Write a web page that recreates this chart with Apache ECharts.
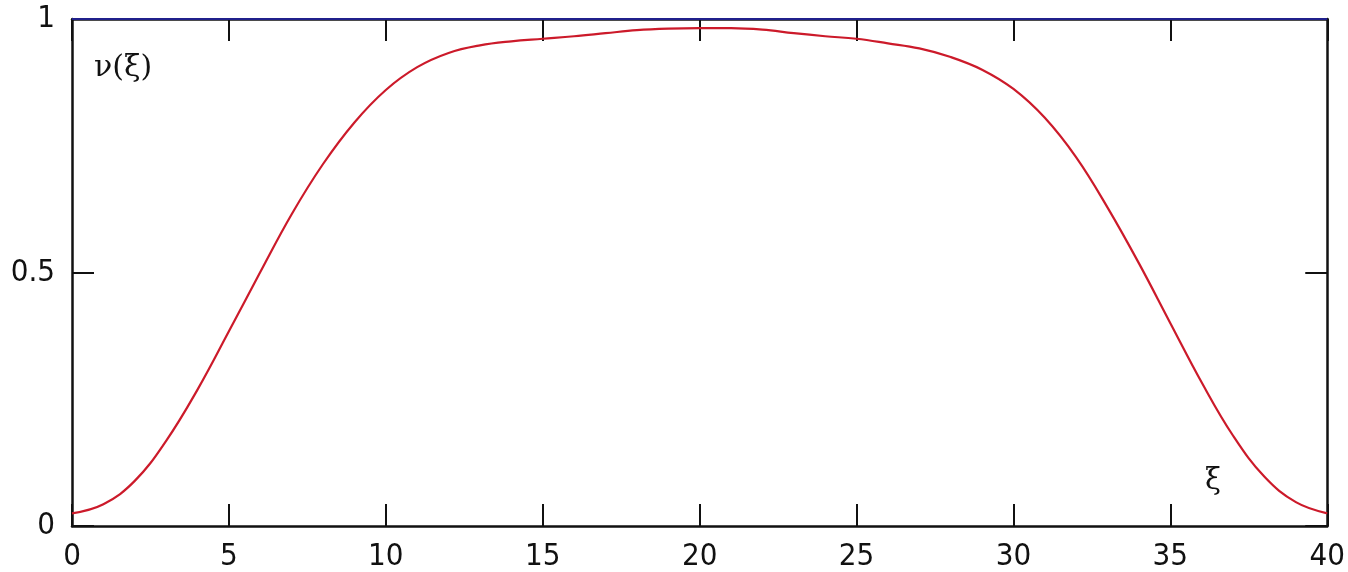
<!DOCTYPE html>
<html>
<head>
<meta charset="utf-8">
<script src="https://cdn.jsdelivr.net/npm/echarts@6/dist/echarts.min.js"></script>
<style>
  html, body { margin: 0; padding: 0; background: #ffffff; }
  #chart { width: 1348px; height: 572px; }
</style>
</head>
<body>
<div id="chart"></div>
<script>
// Profile ν(ξ) sampled at whole values of ξ
const xi = [0, 1, 2, 3, 4, 5, 6, 7, 8, 9, 10, 11, 12, 13, 14, 15, 16, 17, 18, 19, 20,
            21, 22, 23, 24, 25, 26, 27, 28, 29, 30, 31, 32, 33, 34, 35, 36, 37, 38, 39, 40];
const nu = [0.025, 0.043, 0.089, 0.168, 0.269, 0.384, 0.501, 0.615, 0.714, 0.796, 0.860,
            0.905, 0.933, 0.948, 0.956, 0.961, 0.966, 0.972, 0.978, 0.981, 0.982,
            0.982, 0.979, 0.972, 0.966, 0.961, 0.952, 0.942, 0.925, 0.900, 0.862,
            0.805, 0.727, 0.628, 0.518, 0.400, 0.283, 0.178, 0.097, 0.047, 0.025];
// Upper level line ν = 1
const levelXi = [0, 40];
const levelNu = [1, 1];

const xTicks = [0, 5, 10, 15, 20, 25, 30, 35, 40];
const yTickLabels = { 0: '0', 0.5: '0.5', 1: '1' };

const FONT = '"DejaVu Sans Condensed", "Liberation Sans Narrow", "Liberation Sans", sans-serif';
const SERIF = '"DejaVu Serif", "Liberation Serif", serif';
const frameLine = { show: true, onZero: false, lineStyle: { color: '#111111', width: 2.5 } };
const tickStyle = { show: true, inside: true, length: 22, lineStyle: { color: '#111111', width: 2 } };

const chart = echarts.init(document.getElementById('chart'), null, { renderer: 'canvas' });

chart.setOption({
  backgroundColor: '#ffffff',
  animation: false,
  grid: { left: 72, top: 19, right: 20, bottom: 46, containLabel: false },
  xAxis: [
    {
      type: 'value', position: 'bottom',
      min: xTicks[0], max: xTicks[xTicks.length - 1], interval: 5,
      axisLine: frameLine, axisTick: tickStyle,
      axisLabel: { color: '#111111', fontFamily: FONT, fontSize: 31, margin: 15 },
      splitLine: { show: false }
    },
    {
      type: 'value', position: 'top',
      min: xTicks[0], max: xTicks[xTicks.length - 1], interval: 5,
      axisLine: frameLine, axisTick: tickStyle,
      axisLabel: { show: false }, splitLine: { show: false }
    }
  ],
  yAxis: [
    {
      type: 'value', position: 'left',
      min: 0, max: 1, interval: 0.5,
      axisLine: frameLine, axisTick: tickStyle,
      axisLabel: {
        color: '#111111', fontFamily: FONT, fontSize: 31, margin: 17,
        padding: [16, 0, 0, 0],
        formatter: v => yTickLabels[v] !== undefined ? yTickLabels[v] : String(v)
      },
      splitLine: { show: false }
    },
    {
      type: 'value', position: 'right',
      min: 0, max: 1, interval: 0.5,
      axisLine: frameLine, axisTick: tickStyle,
      axisLabel: { show: false }, splitLine: { show: false }
    }
  ],
  series: [
    {
      type: 'line',
      data: levelXi.map((x, i) => [x, levelNu[i]]),
      showSymbol: false, clip: false, z: 5,
      lineStyle: { color: '#20208c', width: 2 }
    },
    {
      type: 'line',
      data: xi.map((x, i) => [x, nu[i]]),
      smooth: 0.4, showSymbol: false, clip: false, z: 4,
      lineStyle: { color: '#cc1a2a', width: 2.2 }
    }
  ],
  graphic: [
    {
      type: 'text', left: 94, top: 53, z: 10,
      style: { text: 'ν(ξ)', fill: '#111111', font: '30px ' + SERIF }
    },
    {
      type: 'text', left: 1205, top: 467, z: 10,
      style: { text: 'ξ', fill: '#111111', font: '29px ' + SERIF }
    }
  ]
});
</script>
</body>
</html>
